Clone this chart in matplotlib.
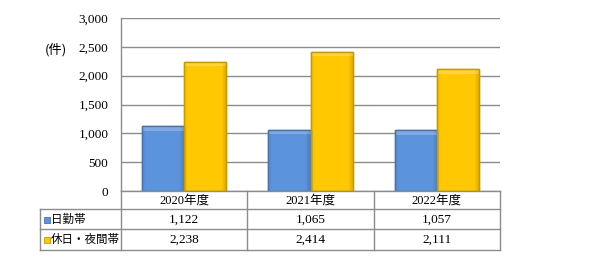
import matplotlib
matplotlib.use("Agg")
import matplotlib.pyplot as plt
import numpy as np
from matplotlib.lines import Line2D
from matplotlib.colors import to_rgb

categories = ["2020年度", "2021年度", "2022年度"]
series_names = ["日勤帯", "休日・夜間帯"]
day_values = [1122, 1065, 1057]
night_values = [2238, 2414, 2111]
y_ticks = [0, 500, 1000, 1500, 2000, 2500, 3000]
unit_label = "(件)"

colors = ["#5B93DC", "#FFC800"]
edges = ["#4A72A8", "#C89A00"]

W, H = 590, 266
fig = plt.figure(figsize=(W / 100, H / 100), dpi=100)

L, R, T, B = 121, 500, 18, 191
ax = fig.add_axes([L / W, 1 - B / H, (R - L) / W, (B - T) / H])
x = np.arange(len(categories))
bw = 0.335
for i, (vals, c, e) in enumerate(zip([day_values, night_values], colors, edges)):
    bars = ax.bar(x + (i - 0.5) * bw, vals, bw, color=c, edgecolor=e, linewidth=1.0, zorder=3)
    base = np.array(to_rgb(c))
    for p in bars:
        x0, y0 = p.get_x(), p.get_y()
        w, h = p.get_width(), p.get_height()
        nx, ny = 42, 400
        u = np.linspace(0, 1, nx)[None, :]
        shade = np.ones((ny, nx))
        shade = shade * (1.0 - 0.15 * np.clip((u - 0.88) / 0.12, 0, 1))
        shade = shade * (1.0 - 0.06 * np.clip((0.08 - u) / 0.08, 0, 1))
        img = base[None, None, :] * shade[:, :, None]
        top_px = 5.0 / (B - T) * 3000
        frac = min(1.0, top_px / h)
        vv = np.linspace(1, 0, ny)[:, None]
        topmask = (vv > 1 - frac).astype(float) * np.ones((1, nx))
        img = img * (1 - 0.22 * topmask[:, :, None]) + 0.22 * topmask[:, :, None]
        im = ax.imshow(np.clip(img, 0, 1), extent=[x0, x0 + w, y0, y0 + h], aspect="auto",
                       zorder=3.5, interpolation="nearest")
        im.set_clip_path(p)
        ax.add_patch(plt.Rectangle((x0, y0), w, h, fill=False, edgecolor=e, lw=1.0, zorder=4))
ax.set_xlim(-0.5, len(categories) - 0.5)
ax.set_ylim(0, 3000)
ax.set_yticks(y_ticks)
ax.set_yticklabels([f"{v:,}" for v in y_ticks], family="Liberation Serif", fontsize=9.5)
ax.set_xticks([])
ax.yaxis.grid(True, color="#8C8C8C", linewidth=1.0, zorder=0)
ax.tick_params(axis="y", length=0, pad=9)
for s in ["top", "right", "bottom"]:
    ax.spines[s].set_visible(False)
ax.spines["left"].set_color("#8C8C8C")
ax.spines["left"].set_linewidth(1.0)

fig.text(56 / W, 1 - 50 / H, unit_label, family=["Noto Sans CJK JP", "DejaVu Sans"],
         fontsize=9.5, ha="center", va="center")

# table
lc = "#8C8C8C"
def hline(y, x0, x1):
    fig.add_artist(Line2D([x0 / W, x1 / W], [1 - y / H, 1 - y / H], color=lc, lw=1.0))
def vline(xp, y0, y1):
    fig.add_artist(Line2D([xp / W, xp / W], [1 - y0 / H, 1 - y1 / H], color=lc, lw=1.0))

hline(191, L, R)
hline(209, 40, R)
hline(229, 40, R)
hline(250, 40, R)
vline(40, 209, 250)
colw = (R - L) / len(categories)
for k in range(len(categories) + 1):
    vline(L + k * colw, 191, 250)

mixed = ["Liberation Serif", "Noto Sans CJK JP"]
for k, cat in enumerate(categories):
    cx = L + (k + 0.5) * colw
    fig.text(cx / W, 1 - 200.5 / H, cat, family=mixed, fontsize=9, ha="center", va="center")
    fig.text(cx / W, 1 - 219.5 / H, f"{day_values[k]:,}", family="Liberation Serif",
             fontsize=9.5, ha="center", va="center")
    fig.text(cx / W, 1 - 240 / H, f"{night_values[k]:,}", family="Liberation Serif",
             fontsize=9.5, ha="center", va="center")

for j, (name, c, e, yc) in enumerate(zip(series_names, colors, edges, [219.5, 240])):
    fig.add_artist(plt.Rectangle((44 / W, 1 - (yc + 3) / H), 6 / W, 6 / H,
                                 facecolor=c, edgecolor=e, lw=0.6, transform=fig.transFigure))
    fig.text(51 / W, 1 - yc / H, name, family=mixed, fontsize=8.3, ha="left", va="center")

fig.savefig("out.png", dpi=100)
